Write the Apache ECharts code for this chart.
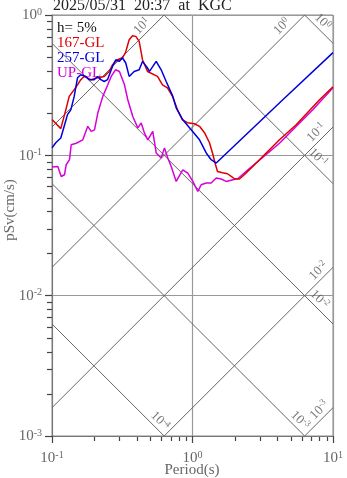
<!DOCTYPE html>
<html>
<head>
<meta charset="utf-8">
<script src="https://cdn.jsdelivr.net/npm/echarts@6/dist/echarts.min.js"></script>
<style>
html, body { margin: 0; padding: 0; background: #fff; }
#chart { width: 347px; height: 478px; }
</style>
</head>
<body>
<div id="chart"></div>
<script>
var titleText = '2025/05/31  20:37  at  KGC';
var dampingText = 'h= 5%';
var seriesNames = ['167-GL', '257-GL', 'UP-GL'];

// period (s) / pseudo velocity (cm/s)
var period167 = [0.100, 0.1155, 0.1254, 0.1326, 0.1439, 0.1519, 0.1603, 0.1694, 0.1888, 0.2108, 0.2352, 0.2553, 0.2695, 0.2924, 0.3177, 0.3334, 0.3543, 0.3741, 0.3948, 0.4174, 0.4406, 0.4786, 0.4943, 0.5636, 0.6116, 0.6637, 0.7207, 0.7816, 0.8487, 0.9214, 1.033, 1.122, 1.217, 1.321, 1.388, 1.458, 1.507, 1.635, 1.774, 1.886, 1.991, 2.160, 2.410, 3.347, 4.159, 5.47, 8.02, 10];
var sv167 = [0.180, 0.155, 0.211, 0.263, 0.294, 0.318, 0.346, 0.365, 0.346, 0.357, 0.365, 0.396, 0.442, 0.480, 0.496, 0.539, 0.667, 0.712, 0.704, 0.648, 0.480, 0.396, 0.386, 0.365, 0.318, 0.303, 0.263, 0.211, 0.179, 0.171, 0.168, 0.161, 0.145, 0.123, 0.104, 0.0857, 0.0768, 0.0752, 0.0739, 0.0707, 0.0681, 0.0678, 0.0748, 0.104, 0.129, 0.165, 0.249, 0.308];

var period257 = [0.100, 0.1064, 0.1155, 0.1221, 0.1289, 0.1361, 0.1439, 0.1519, 0.1603, 0.1740, 0.1840, 0.1996, 0.2108, 0.2225, 0.2352, 0.2483, 0.2695, 0.2844, 0.3006, 0.3177, 0.3350, 0.3543, 0.3846, 0.4174, 0.4406, 0.4786, 0.4943, 0.5516, 0.5984, 0.6499, 0.7244, 0.7656, 0.8531, 0.9520, 1.122, 1.252, 1.358, 1.475, 4.393, 10];
var sv257 = [0.113, 0.123, 0.133, 0.161, 0.195, 0.211, 0.263, 0.357, 0.375, 0.365, 0.346, 0.346, 0.365, 0.346, 0.336, 0.346, 0.430, 0.480, 0.467, 0.494, 0.455, 0.365, 0.396, 0.407, 0.467, 0.419, 0.396, 0.467, 0.407, 0.336, 0.263, 0.218, 0.179, 0.157, 0.129, 0.104, 0.0931, 0.0881, 0.249, 0.539];

var periodUP = [0.100, 0.1100, 0.1163, 0.1227, 0.1262, 0.1332, 0.1370, 0.1487, 0.1656, 0.1798, 0.1901, 0.2007, 0.2118, 0.2299, 0.2495, 0.2639, 0.2831, 0.3020, 0.3281, 0.3463, 0.3758, 0.4080, 0.4315, 0.4550, 0.4808, 0.5216, 0.5516, 0.5984, 0.6320, 0.6671, 0.7054, 0.7656, 0.8531, 0.9259, 1.005, 1.091, 1.153, 1.252, 1.358, 1.475, 1.600, 1.737, 1.936, 2.101, 2.410, 4.159, 7.18, 10];
var svUP = [0.0825, 0.0833, 0.0707, 0.0727, 0.0857, 0.0931, 0.119, 0.122, 0.129, 0.161, 0.148, 0.152, 0.200, 0.263, 0.318, 0.365, 0.407, 0.396, 0.318, 0.249, 0.189, 0.157, 0.170, 0.144, 0.129, 0.148, 0.104, 0.0957, 0.113, 0.0957, 0.0833, 0.0652, 0.0789, 0.0748, 0.0652, 0.0553, 0.0617, 0.0635, 0.0635, 0.0689, 0.0678, 0.0652, 0.0670, 0.0681, 0.0768, 0.122, 0.211, 0.303];

// tripartite levels (exponents): acceleration cm/s^2, displacement cm
var accelExp = [-3, -2, -1, 0, 1];
var dispExp = [-4, -3, -2, -1, 0];
// period where each diagonal gets its label
var accelLabelT = [8.77, 8.64, 8.35, 4.75, 0.478];
var dispLabelT = [0.536, 5.32, 7.32, 7.13, 7.69];

var xMin = 0.1, xMax = 10, yMin = 0.001, yMax = 1;
var FONT = '"Liberation Serif", "DejaVu Serif", serif';
var TICK = '#444';

function zip(a, b) {
    var out = [];
    for (var i = 0; i < a.length; i++) out.push([a[i], b[i]]);
    return out;
}

// minor tick values 2..9 per decade
function minorTicks(lo, hi) {
    var v = [];
    for (var e = lo; e < hi; e++) {
        for (var m = 2; m <= 9; m++) v.push(m * Math.pow(10, e));
    }
    return v;
}

var L2PI = Math.log10(2 * Math.PI);
var lx0 = Math.log10(xMin), lx1 = Math.log10(xMax);
var ly0 = Math.log10(yMin), ly1 = Math.log10(yMax);

// log Sv = c + s * log T, clipped to the box
function diagSeg(c, s) {
    var a, b;
    if (s > 0) { a = Math.max(lx0, ly0 - c); b = Math.min(lx1, ly1 - c); }
    else { a = Math.max(lx0, c - ly1); b = Math.min(lx1, c - ly0); }
    if (a >= b) return null;
    return [[Math.pow(10, a), Math.pow(10, c + s * a)], [Math.pow(10, b), Math.pow(10, c + s * b)]];
}

var diagSeries = [];
var diagLabels = [];
var off = 0.042;
accelExp.forEach(function (k, i) {
    var c = k - L2PI;
    var seg = diagSeg(c, 1);
    if (seg) diagSeries.push(seg);
    var lt = Math.log10(accelLabelT[i]);
    diagLabels.push({ value: [Math.pow(10, lt - off), Math.pow(10, c + lt + off)], exp: k, rot: 45 });
});
dispExp.forEach(function (k, i) {
    var c = k + L2PI;
    var seg = diagSeg(c, -1);
    if (seg) diagSeries.push(seg);
    var lt = Math.log10(dispLabelT[i]);
    diagLabels.push({ value: [Math.pow(10, lt + off), Math.pow(10, c - lt + off)], exp: k, rot: -45 });
});

function powLabel(v) {
    return '{b|10}{s|' + Math.round(Math.log10(v)) + '}';
}

var tickRich = {
    b: { fontFamily: FONT, fontSize: 15, color: '#666', lineHeight: 16, verticalAlign: 'bottom' },
    s: { fontFamily: FONT, fontSize: 10, color: '#666', lineHeight: 16, verticalAlign: 'top' }
};
var diagRich = {
    b: { fontFamily: FONT, fontSize: 13, color: '#555', lineHeight: 14, verticalAlign: 'bottom' },
    s: { fontFamily: FONT, fontSize: 9, color: '#555', lineHeight: 14, verticalAlign: 'top' }
};

var series = [];
diagSeries.forEach(function (seg) {
    series.push({
        type: 'line', data: seg, showSymbol: false, silent: true, z: 1,
        lineStyle: { color: '#666', width: 1 }
    });
});
series.push({
    type: 'scatter', symbolSize: 0, silent: true, z: 1,
    data: diagLabels.map(function (d) {
        return {
            value: d.value,
            label: {
                show: true, position: 'inside', rotate: d.rot,
                formatter: '{b|10}{s|' + d.exp + '}', rich: diagRich
            }
        };
    })
});
series.push({
    name: seriesNames[2], type: 'line', data: zip(periodUP, svUP), showSymbol: false, z: 3,
    lineStyle: { color: '#d800d8', width: 1.5 }
});
series.push({
    name: seriesNames[0], type: 'line', data: zip(period167, sv167), showSymbol: false, z: 4,
    lineStyle: { color: '#dd0000', width: 1.5 }
});
series.push({
    name: seriesNames[1], type: 'line', data: zip(period257, sv257), showSymbol: false, z: 5,
    lineStyle: { color: '#0000dd', width: 1.5 }
});

var chart = echarts.init(document.getElementById('chart'));
chart.setOption({
    animation: false,
    grid: { left: 52, top: 15, width: 281, height: 421, show: true, borderColor: '#888', borderWidth: 1 },
    xAxis: {
        type: 'log', logBase: 10, min: xMin, max: xMax,
        axisLine: { show: true, lineStyle: { color: '#777' } },
        axisTick: { show: true, length: 7, lineStyle: { color: TICK, width: 1.2 } },
        axisLabel: { formatter: powLabel, rich: tickRich, margin: 14 },
        splitLine: { show: true, lineStyle: { color: '#999', width: 1.2 } }
    },
    yAxis: {
        type: 'log', logBase: 10, min: yMin, max: yMax,
        axisLine: { show: true, lineStyle: { color: '#777' } },
        axisTick: { show: true, length: 7, lineStyle: { color: TICK, width: 1.2 } },
        axisLabel: { formatter: powLabel, rich: tickRich, margin: 10 },
        splitLine: { show: true, lineStyle: { color: '#999', width: 1.2 } }
    },
    series: series
});

// texts and minor ticks (tick positions taken from the axes)
var graphics = [
    { type: 'text', x: 53, y: 6, z: 0, style: { text: titleText, font: '16px ' + FONT, fill: '#222', align: 'left', verticalAlign: 'middle' } },
    { type: 'text', x: 57, y: 28, z: 0, style: { text: dampingText, font: '15px ' + FONT, fill: '#111', align: 'left', verticalAlign: 'middle' } },
    { type: 'text', x: 57, y: 43, z: 0, style: { text: seriesNames[0], font: '15px ' + FONT, fill: '#dd0000', align: 'left', verticalAlign: 'middle' } },
    { type: 'text', x: 57, y: 58, z: 0, style: { text: seriesNames[1], font: '15px ' + FONT, fill: '#0000dd', align: 'left', verticalAlign: 'middle' } },
    { type: 'text', x: 57, y: 73, z: 0, style: { text: seriesNames[2], font: '15px ' + FONT, fill: '#d800d8', align: 'left', verticalAlign: 'middle' } },
    { type: 'text', x: 10, y: 210, rotation: Math.PI / 2, z: 0, style: { text: 'pSv(cm/s)', font: '15px ' + FONT, fill: '#666', align: 'center', verticalAlign: 'middle' } },
    { type: 'text', x: 192, y: 470, z: 0, style: { text: 'Period(s)', font: '15px ' + FONT, fill: '#666', align: 'center', verticalAlign: 'middle' } }
];
minorTicks(-1, 1).forEach(function (v) {
    var p = chart.convertToPixel({ gridIndex: 0 }, [v, yMin]);
    var x = Math.round(p[0]) + 0.5, y = Math.round(p[1]);
    graphics.push({ type: 'line', shape: { x1: x, y1: y, x2: x, y2: y + 5 }, style: { stroke: TICK, lineWidth: 1.2 } });
});
minorTicks(-3, 0).forEach(function (v) {
    var p = chart.convertToPixel({ gridIndex: 0 }, [xMin, v]);
    var x = Math.round(p[0]), y = Math.round(p[1]) + 0.5;
    graphics.push({ type: 'line', shape: { x1: x - 5, y1: y, x2: x, y2: y }, style: { stroke: TICK, lineWidth: 1.2 } });
});
chart.setOption({ graphic: graphics });
</script>
</body>
</html>
